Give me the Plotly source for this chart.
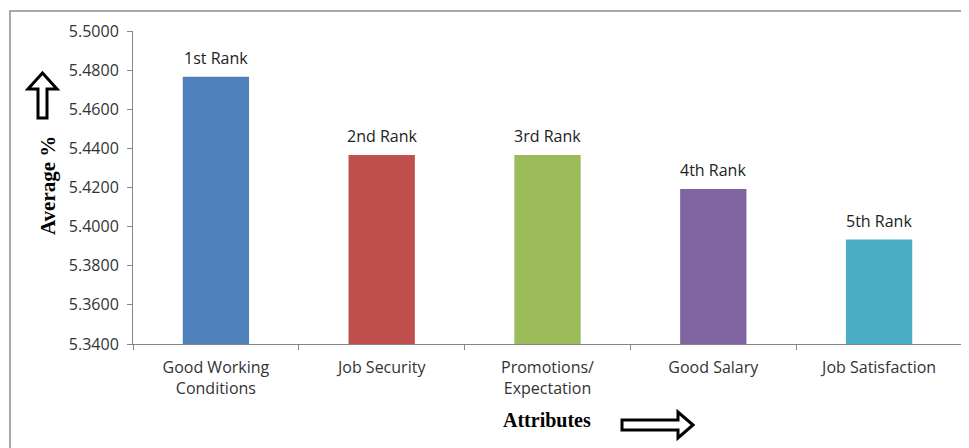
import plotly.graph_objects as go

categories = ["Good Working<br>Conditions", "Job Security", "Promotions/<br>Expectation", "Good Salary", "Job Satisfaction"]
values = [5.4766, 5.4366, 5.4366, 5.4192, 5.3934]
rank_labels = ["1st Rank", "2nd Rank", "3rd Rank", "4th Rank", "5th Rank"]
colors = ["#4F81BD", "#C0504D", "#9BBB59", "#8064A2", "#4BACC6"]
y_ticks = [5.34, 5.36, 5.38, 5.40, 5.42, 5.44, 5.46, 5.48, 5.50]

OFF = 8  # page body margin
W, H = 969 - OFF, 448 - OFF
# plot area in page pixels
L, R, T, B = 133, 962, 31, 344

def px(x):
    return (x - L) / (R - L)

def py(y):
    return (B - y) / (B - T)

fig = go.Figure()
fig.add_trace(go.Bar(
    x=categories, y=values, marker=dict(color=colors, line=dict(width=0)),
    width=0.4, hoverinfo="x+y",
))

up = [(42.5, 73), (57, 89), (47, 89), (47, 118), (38, 118), (38, 89), (28, 89)]
right = [(693, 425), (678, 412), (678, 420), (622, 420), (622, 430), (678, 430), (678, 438)]

def path(pts):
    return "M " + " L ".join(f"{px(x):.5f},{py(y):.5f}" for x, y in pts) + " Z"

shapes = [
    dict(type="path", xref="paper", yref="paper", path=path(up),
         line=dict(color="black", width=3), fillcolor="white"),
    dict(type="path", xref="paper", yref="paper", path=path(right),
         line=dict(color="black", width=3), fillcolor="white"),
    dict(type="rect", xref="paper", yref="paper", x0=px(10), y0=py(480), x1=px(1000), y1=py(11),
         line=dict(color="#8c8c8c", width=1.5), fillcolor="rgba(0,0,0,0)", layer="below"),
]

annotations = [
    dict(text=lab, x=c, y=v, xref="x", yref="y", yanchor="bottom", xanchor="center",
         yshift=6, showarrow=False,
         font=dict(family="Open Sans, Liberation Sans, sans-serif", size=16, color="#222222"))
    for c, v, lab in zip(categories, values, rank_labels)
]
annotations += [
    dict(text="<b>Average %</b>", xref="paper", yref="paper", x=px(48), y=py(186),
         xanchor="center", yanchor="middle",
         textangle=-90, showarrow=False,
         font=dict(family="Liberation Serif, Times New Roman, serif", size=21, color="black")),
    dict(text="<b>Attributes</b>", xref="paper", yref="paper", x=px(547), y=py(420),
         xanchor="center", yanchor="middle",
         showarrow=False,
         font=dict(family="Liberation Serif, Times New Roman, serif", size=20, color="black")),
]

fig.update_layout(
    width=W, height=H,
    margin=dict(l=L - OFF, r=W - (R - OFF), t=T - OFF, b=H - (B - OFF)),
    paper_bgcolor="white", plot_bgcolor="white",
    showlegend=False,
    shapes=shapes,
    font=dict(family="Open Sans, Liberation Sans, sans-serif", size=15, color="#333333"),
    annotations=annotations,
)
fig.update_xaxes(
    showline=True, linecolor="#868686", linewidth=1,
    ticks="outside", tickson="boundaries", ticklen=5, tickcolor="#868686",
    showgrid=False, ticklabelstandoff=9,
    tickfont=dict(size=16, color="#333333"),
)
fig.update_yaxes(
    range=[5.34, 5.50], tickvals=y_ticks, tickformat=".4f",
    showline=True, linecolor="#868686", linewidth=1,
    ticks="outside", ticklen=5, tickcolor="#868686",
    showgrid=False, zeroline=False, ticklabelstandoff=5,
    tickfont=dict(size=16, color="#333333"),
)

fig.write_html("out.html")
